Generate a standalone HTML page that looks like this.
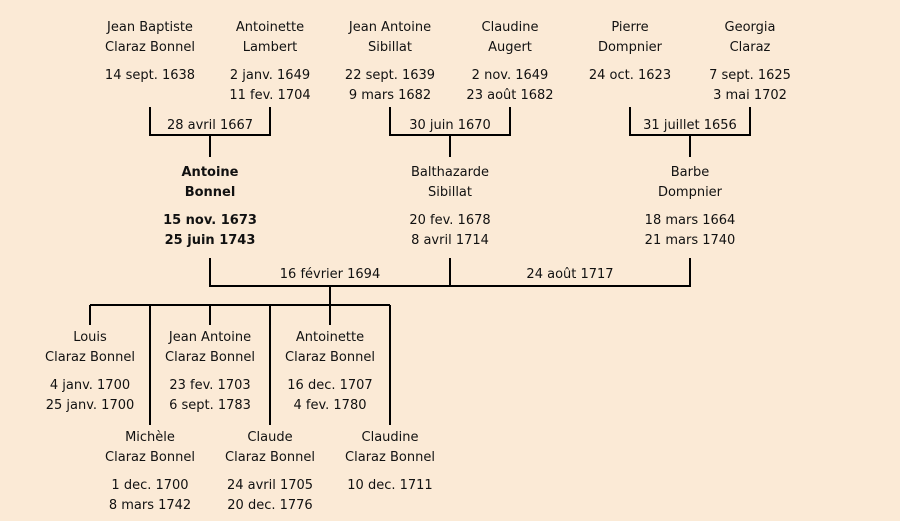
<!DOCTYPE html>
<html><head><meta charset="utf-8"><style>
body{margin:0;width:900px;height:521px;background:#fbead6;position:relative;overflow:hidden;font-family:"DejaVu Sans","Liberation Sans",sans-serif;font-size:13px;color:#111}
.t{position:absolute;width:160px;margin-left:-80px;text-align:center;line-height:15px;white-space:nowrap}
.b{font-weight:bold}
svg{position:absolute;left:0;top:0}
</style></head><body>
<svg width="900" height="521"><g stroke="#000" stroke-width="2" fill="none">
<path d="M150 107V135H270V107M210 135V157"/>
<path d="M390 107V135H510V107M450 135V157"/>
<path d="M630 107V135H750V107M690 135V157"/>
<path d="M210 258V286H690V258M450 258V286M330 286V305M90 305H390"/>
<path d="M90 305V325M210 305V325M330 305V325M150 305V425M270 305V425M390 305V425"/>
</g></svg>
<div class="t" style="left:150px;top:20px">Jean Baptiste</div><div class="t" style="left:150px;top:40px">Claraz Bonnel</div><div class="t" style="left:150px;top:68px">14 sept. 1638</div>
<div class="t" style="left:270px;top:20px">Antoinette</div><div class="t" style="left:270px;top:40px">Lambert</div><div class="t" style="left:270px;top:68px">2 janv. 1649</div><div class="t" style="left:270px;top:88px">11 fev. 1704</div>
<div class="t" style="left:390px;top:20px">Jean Antoine</div><div class="t" style="left:390px;top:40px">Sibillat</div><div class="t" style="left:390px;top:68px">22 sept. 1639</div><div class="t" style="left:390px;top:88px">9 mars 1682</div>
<div class="t" style="left:510px;top:20px">Claudine</div><div class="t" style="left:510px;top:40px">Augert</div><div class="t" style="left:510px;top:68px">2 nov. 1649</div><div class="t" style="left:510px;top:88px">23 août 1682</div>
<div class="t" style="left:630px;top:20px">Pierre</div><div class="t" style="left:630px;top:40px">Dompnier</div><div class="t" style="left:630px;top:68px">24 oct. 1623</div>
<div class="t" style="left:750px;top:20px">Georgia</div><div class="t" style="left:750px;top:40px">Claraz</div><div class="t" style="left:750px;top:68px">7 sept. 1625</div><div class="t" style="left:750px;top:88px">3 mai 1702</div>
<div class="t" style="left:210px;top:118px">28 avril 1667</div>
<div class="t" style="left:450px;top:118px">30 juin 1670</div>
<div class="t" style="left:690px;top:118px">31 juillet 1656</div>
<div class="t b" style="left:210px;top:165px">Antoine</div><div class="t b" style="left:210px;top:185px">Bonnel</div><div class="t b" style="left:210px;top:213px">15 nov. 1673</div><div class="t b" style="left:210px;top:233px">25 juin 1743</div>
<div class="t" style="left:450px;top:165px">Balthazarde</div><div class="t" style="left:450px;top:185px">Sibillat</div><div class="t" style="left:450px;top:213px">20 fev. 1678</div><div class="t" style="left:450px;top:233px">8 avril 1714</div>
<div class="t" style="left:690px;top:165px">Barbe</div><div class="t" style="left:690px;top:185px">Dompnier</div><div class="t" style="left:690px;top:213px">18 mars 1664</div><div class="t" style="left:690px;top:233px">21 mars 1740</div>
<div class="t" style="left:330px;top:267px">16 février 1694</div>
<div class="t" style="left:570px;top:267px">24 août 1717</div>
<div class="t" style="left:90px;top:330px">Louis</div><div class="t" style="left:90px;top:350px">Claraz Bonnel</div><div class="t" style="left:90px;top:378px">4 janv. 1700</div><div class="t" style="left:90px;top:398px">25 janv. 1700</div>
<div class="t" style="left:210px;top:330px">Jean Antoine</div><div class="t" style="left:210px;top:350px">Claraz Bonnel</div><div class="t" style="left:210px;top:378px">23 fev. 1703</div><div class="t" style="left:210px;top:398px">6 sept. 1783</div>
<div class="t" style="left:330px;top:330px">Antoinette</div><div class="t" style="left:330px;top:350px">Claraz Bonnel</div><div class="t" style="left:330px;top:378px">16 dec. 1707</div><div class="t" style="left:330px;top:398px">4 fev. 1780</div>
<div class="t" style="left:150px;top:430px">Michèle</div><div class="t" style="left:150px;top:450px">Claraz Bonnel</div><div class="t" style="left:150px;top:478px">1 dec. 1700</div><div class="t" style="left:150px;top:498px">8 mars 1742</div>
<div class="t" style="left:270px;top:430px">Claude</div><div class="t" style="left:270px;top:450px">Claraz Bonnel</div><div class="t" style="left:270px;top:478px">24 avril 1705</div><div class="t" style="left:270px;top:498px">20 dec. 1776</div>
<div class="t" style="left:390px;top:430px">Claudine</div><div class="t" style="left:390px;top:450px">Claraz Bonnel</div><div class="t" style="left:390px;top:478px">10 dec. 1711</div>
</body></html>
